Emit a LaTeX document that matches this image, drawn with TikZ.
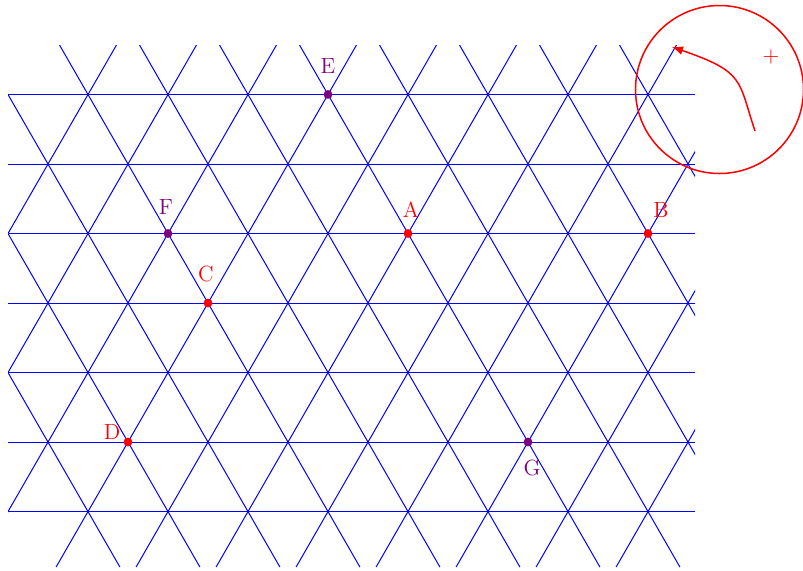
\documentclass[tikz,border=0pt]{standalone}
\usetikzlibrary{arrows.meta}
\definecolor{mypurple}{RGB}{128,0,128}
\tikzset{
  gridline/.style={draw=blue, line width=0.5pt},
  dotred/.style={circle, fill=red, inner sep=0pt, minimum size=4.4pt},
  dotpurple/.style={circle, fill=mypurple, inner sep=0pt, minimum size=4.4pt},
  lblred/.style={text=red, inner sep=0pt, font=\fontsize{11}{13}\selectfont},
  lblpurple/.style={text=mypurple, inner sep=0pt, font=\fontsize{11}{13}\selectfont},
  signcircle/.style={red, line width=0.75pt},
  turnarrow/.style={red, line width=0.75pt, -{Latex[length=5.5pt,width=4.5pt]}}
}
\begin{document}
\begin{tikzpicture}[x=0.5pt, y=-0.5pt]
\useasboundingbox (0,0) rectangle (803,570);
% lattice
\begin{scope}
  \clip (8,45) rectangle (695,567);
  \foreach \yy in {94.5,164,233.5,303,372.5,442,511.5} {
    \draw[gridline] (8,\yy) -- (695,\yy);
  }
  \foreach \k in {-2,...,12} {
    \draw[gridline] (8+80*\k-28.49,45) -- (8+80*\k+271.9,567);
  }
  \foreach \k in {1,...,13} {
    \draw[gridline] (8+80*\k+28.49,45) -- (8+80*\k-271.9,567);
  }
\end{scope}
% points
\node[dotred] (A) at (408,233.5) {};
\node[dotred] (B) at (648,233.5) {};
\node[dotred] (C) at (208,303) {};
\node[dotred] (D) at (128,442) {};
\node[dotpurple] (E) at (328,94.5) {};
\node[dotpurple] (F) at (168,233.5) {};
\node[dotpurple] (G) at (528,442) {};
% labels
\node[lblred] (lA) at (411,210) {A};
\node[lblred] (lB) at (661,210) {B};
\node[lblred] (lC) at (206,274) {C};
\node[lblred] (lD) at (112,432) {D};
\node[lblpurple] (lE) at (328,66) {E};
\node[lblpurple] (lF) at (166,207) {F};
\node[lblpurple] (lG) at (532,468) {G};
% orientation circle
\node (ctr) at (719.5,89.5) {};
\draw[signcircle] (ctr.center) circle[radius=84];
\node[lblred] (plus) at (771,57) {+};
\coordinate (s) at (755,131);
\coordinate (t) at (672,47);
\draw[turnarrow] (s) .. controls (738,80) and (745,72) .. (t);
\end{tikzpicture}
\end{document}
